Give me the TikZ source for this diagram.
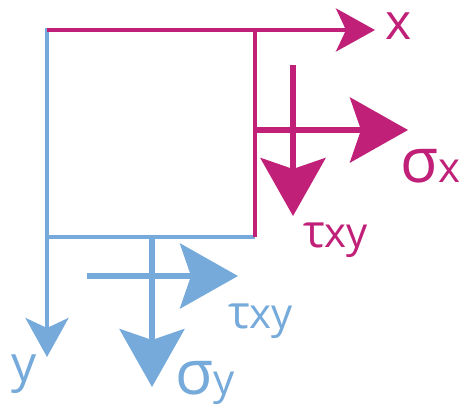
\documentclass[tikz,border=0pt]{standalone}
\usepackage{fontspec}
\setmainfont{Open Sans}
\usetikzlibrary{arrows.meta}
\definecolor{mag}{RGB}{192,32,120}
\definecolor{blu}{RGB}{117,170,219}
\begin{document}
\begin{tikzpicture}[x=1pt,y=-1pt,
  axisline/.style={line width=4pt},
  axistip/.style={-{Stealth[length=39pt,width=43pt,inset=10pt]}},
  stressline/.style={line width=5.5pt},
  stresstip/.style={-{Stealth[length=58pt,width=65pt,inset=11pt]}},
  lbl/.style={inner sep=0pt,anchor=base west},
  axlbl/.style={font=\fontsize{50}{50}\selectfont},
  big/.style={font=\fontsize{62}{62}\selectfont},
]
\useasboundingbox (0,0) rectangle (471,420);
% corners
\coordinate (tl) at (47,30);
\coordinate (tr) at (255,30);
\coordinate (bl) at (47,237);
\coordinate (br) at (255,237);
\coordinate (xend) at (375,30);
\coordinate (yend) at (47,357);
% blue element edges
\draw[blu,axisline,axistip] (47,28) -- (yend);
\draw[blu,axisline] (bl) -- (br);
% magenta edges
\draw[mag,axisline] (tr) -- (br);
\draw[mag,axisline,axistip] (tl) -- (xend);
% magenta stresses
\coordinate (sxs) at (255,130);
\coordinate (sxe) at (408,130);
\coordinate (txs) at (293,65);
\coordinate (txe) at (293,216);
\draw[mag,stressline,stresstip] (sxs) -- (sxe);
\draw[mag,stressline,stresstip] (txs) -- (txe);
% blue stresses
\coordinate (tys) at (87,276);
\coordinate (tye) at (238,276);
\coordinate (sys) at (152,237);
\coordinate (sye) at (152,387);
\draw[blu,stressline,stresstip] (tys) -- (tye);
\draw[blu,stressline,stresstip] (sys) -- (sye);
% labels
\node[mag,lbl,axlbl] (lx) at (385,40) {x};
\node[blu,lbl,axlbl] (ly) at (11,381) {y};
\node[mag,lbl] (lsx) at (400,182) {\fontsize{62}{62}\selectfont σ\fontsize{42}{42}\selectfont x};
\node[mag,lbl] (ltx) at (303,247) {\fontsize{46}{46}\selectfont τ\fontsize{42}{42}\selectfont xy};
\node[blu,lbl] (lty) at (228,328) {\fontsize{46}{46}\selectfont τ\fontsize{42}{42}\selectfont xy};
\node[blu,lbl] (lsy) at (175,394) {\fontsize{62}{62}\selectfont σ\fontsize{42}{42}\selectfont y};
\end{tikzpicture}
\end{document}
